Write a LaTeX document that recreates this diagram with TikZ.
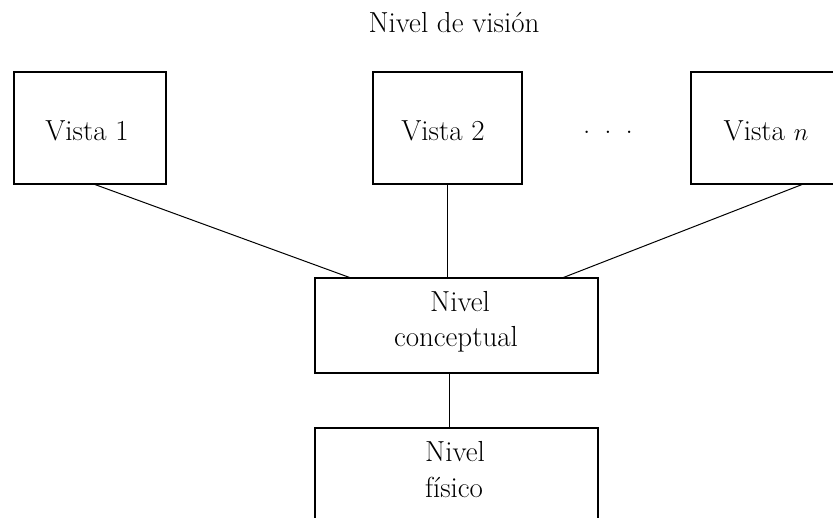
\documentclass[tikz,border=0pt]{standalone}
\usetikzlibrary{calc}
\begin{document}
\begin{tikzpicture}[x=1pt,y=-1pt,
  box/.style={draw=black,line width=1.1pt,inner sep=0pt},
  conn/.style={draw=black,line width=1pt},
  txt/.style={anchor=base,inner sep=0pt,font=\fontsize{29}{35}\selectfont}]
\clip (0,0) rectangle (833,518);
\fill[white] (0,0) rectangle (833,518);
% title
\node[txt] (title) at (454,33) {Nivel de visi\'on};
% view boxes
\node[box,minimum width=152pt,minimum height=112pt] (v1) at (90,128) {};
\node[box,minimum width=149pt,minimum height=112pt] (v2) at (447.5,128) {};
\node[box,minimum width=154pt,minimum height=112pt] (vn) at (768,128) {};
\node[txt] (t1) at (87,141) {Vista 1};
\node[txt] (t2) at (443,141) {Vista 2};
\node[txt] (tn) at (766,141) {Vista $n$};
\node[txt] (dots) at (608,134) {.\hspace{14pt}.\hspace{14pt}.};
% conceptual level
\node[box,minimum width=283pt,minimum height=95pt] (con) at (456.5,325.5) {};
\node[txt] (c1) at (460,312) {Nivel};
\node[txt] (c2) at (456,347) {conceptual};
% physical level
\node[box,minimum width=283pt,minimum height=130pt] (fis) at (456.5,493) {};
\node[txt] (f1) at (455,462) {Nivel};
\node[txt] (f2) at (454,497) {f\'isico};
% connectors
\draw[conn] ($(v1.south)+(5,0)$) -- ($(con.north west)+(35,0)$);
\draw[conn] ($(v2.south)+(-0.5,0)$) -- ($(con.north)+(-9.5,0)$);
\draw[conn] ($(vn.south)+(34,0)$) -- ($(con.north east)+(-35,0)$);
\draw[conn] ($(con.south)+(-7.5,0)$) -- ($(fis.north)+(-7.5,0)$);
\end{tikzpicture}
\end{document}
